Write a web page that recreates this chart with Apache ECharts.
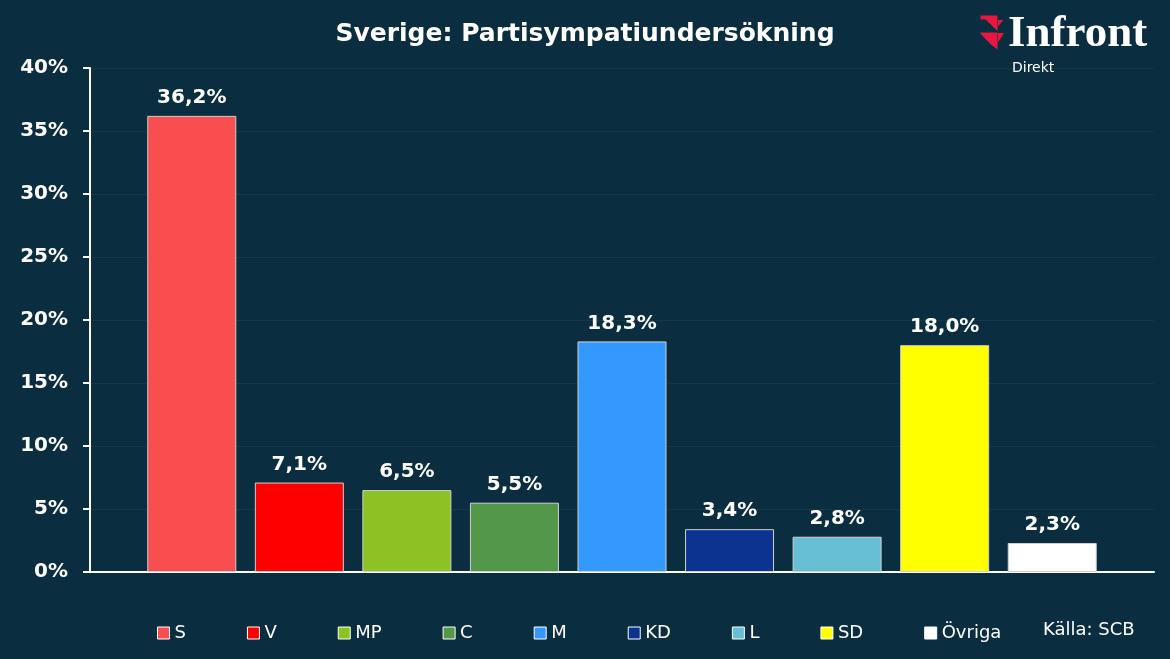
<!DOCTYPE html>
<html><head><meta charset="utf-8">
<script src="https://cdn.jsdelivr.net/npm/echarts@6/dist/echarts.min.js"></script>
<style>html,body{margin:0;padding:0;background:#0b2d40;}#c{width:1170px;height:659px;}</style>
</head><body><div id="c"></div>
<script>
const categories = ['S','V','MP','C','M','KD','L','SD','Övriga'];
const values = [36.2, 7.1, 6.5, 5.5, 18.3, 3.4, 2.8, 18.0, 2.3];
const colors = ['#f94e4f','#ff0000','#8cc224','#53984a','#3399ff','#0c3390','#66bfd4','#ffff00','#ffffff'];
const yTicks = [0,5,10,15,20,25,30,35,40];
const titleText = 'Sverige: Partisympatiundersökning';
const sourceText = 'Källa: SCB';

const FONT = 'DejaVu Sans';
const fmt = v => v.toFixed(1).replace('.', ',') + '%';

const series = categories.map((name, i) => ({
  name: name,
  type: 'bar',
  xAxisIndex: 1, yAxisIndex: 1,
  barWidth: 89,
  barGap: '-100%',
  data: categories.map((c, j) => j === i ? values[i] : null),
  itemStyle: { color: colors[i], borderColor: '#d0d0d0', borderWidth: 1 },
  label: {
    show: true, position: 'top', distance: 8,
    color: '#ffffff', fontFamily: FONT, fontWeight: 'bold', fontSize: 20,
    formatter: p => fmt(p.value)
  },
  emphasis: { disabled: true }
}));

const RED = '#e8173f';
const chart = echarts.init(document.getElementById('c'));
chart.setOption({
  backgroundColor: '#0b2d40',
  animation: false,
  title: {
    text: titleText, left: 'center', top: 17,
    textStyle: { color: '#ffffff', fontFamily: FONT, fontWeight: 'bold', fontSize: 25 }
  },
  legend: {
    data: categories, left: 157, top: 624, itemGap: 61, padding: 0,
    itemWidth: 12, itemHeight: 12, icon: 'rect',
    itemStyle: { borderColor: '#ffffff', borderWidth: 1 },
    textStyle: { color: '#ffffff', fontFamily: FONT, fontSize: 18 },
    selectedMode: false
  },
  grid: [
    { left: 90, right: 16, top: 68, bottom: 87 },
    { left: 138, right: 64, top: 68, bottom: 87 }
  ],
  xAxis: [
    { type: 'value', gridIndex: 0, min: 0, max: 1,
      axisLine: { show: true, lineStyle: { color: '#ffffff', width: 2 } },
      axisTick: { show: false }, axisLabel: { show: false }, splitLine: { show: false } },
    { type: 'category', gridIndex: 1, data: categories,
      axisLine: { show: false }, axisTick: { show: false }, axisLabel: { show: false } }
  ],
  yAxis: [
    { type: 'value', gridIndex: 0, min: yTicks[0], max: yTicks[yTicks.length-1], interval: 5,
      axisLine: { show: true, lineStyle: { color: '#ffffff', width: 2 } },
      axisTick: { show: true, length: 7, lineStyle: { color: '#ffffff', width: 2 } },
      axisLabel: { color: '#ffffff', fontFamily: FONT, fontWeight: 'bold', fontSize: 20, margin: 22,
        formatter: v => v + '%' },
      splitLine: { show: true, lineStyle: { color: 'rgba(255,255,255,0.05)', width: 1 } } },
    { type: 'value', gridIndex: 1, min: yTicks[0], max: yTicks[yTicks.length-1], show: false }
  ],
  graphic: [
    { type: 'text', left: 1043, top: 621, style: { text: sourceText, fill: '#ffffff', font: '18px "DejaVu Sans"' } },
    { type: 'polygon', shape: { points: [[980.5,15.5],[997.5,15.5],[997.5,31],[985.5,19.5],[980.5,19.5]] }, style: { fill: RED } },
    { type: 'polygon', shape: { points: [[998,20],[1003.5,20],[998,26.5]] }, style: { fill: RED } },
    { type: 'polygon', shape: { points: [[980.5,32.5],[997.5,32.5],[997.5,49.5],[991,44.5],[985,38.5],[980.5,33.5]] }, style: { fill: RED } },
    { type: 'polygon', shape: { points: [[998,33],[1004,33],[998,42.5]] }, style: { fill: RED } },
    { type: 'text', left: 1008, top: 12, style: { text: 'Infront', fill: '#ffffff', font: 'bold 45px "Liberation Serif"' } },
    { type: 'text', left: 1012, top: 61, style: { text: 'Direkt', fill: '#ffffff', font: '14px "DejaVu Sans"' } }
  ],
  series: series
});
</script></body></html>
